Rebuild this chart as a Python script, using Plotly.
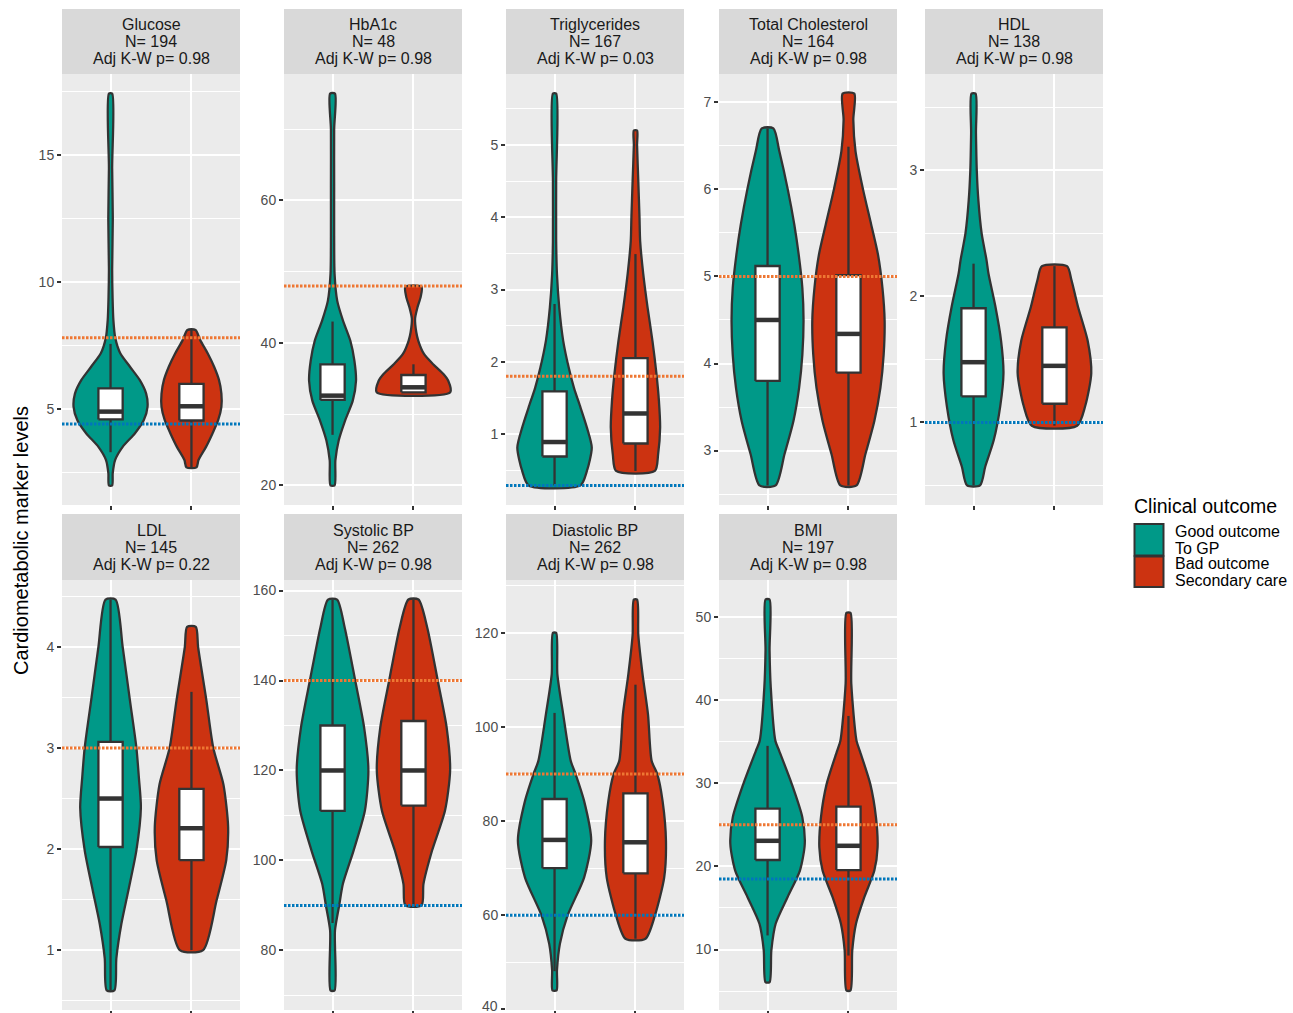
import plotly.graph_objects as go

# ---------------- data ----------------
markers = ["Glucose", "HbA1c", "Triglycerides", "Total Cholesterol", "HDL",
           "LDL", "Systolic BP", "Diastolic BP", "BMI"]
n_values = [194, 48, 167, 164, 138, 145, 262, 262, 197]
p_values = ["0.98", "0.98", "0.03", "0.98", "0.98", "0.22", "0.98", "0.98", "0.98"]
major_dtick = [5, 20, 1, 1, 1, 1, 20, 20, 10]

groups = ["Good outcome<br>To GP", "Bad outcome<br>Secondary care"]
group_colors = ["#009988", "#CC3311"]

# reference (threshold) lines
upper_ref = [7.8, 48, 1.8, 5.0, None, 3.0, 140, 90, 25]
lower_ref = [4.4, None, 0.29, None, 1.0, None, 90, 60, 18.5]

# box statistics
good_q1 = [4.58, 32.0, 0.69, 3.80, 1.206, 2.02, 111.0, 70.0, 20.77]
good_med = [4.89, 32.6, 0.89, 4.50, 1.478, 2.50, 120.0, 76.0, 23.08]
good_q3 = [5.81, 37.0, 1.59, 5.12, 1.906, 3.06, 130.0, 84.7, 26.96]
good_lo = [3.29, 27.1, 0.29, 2.6, 0.5, 0.6, 86.1, 48.1, 11.7]
good_hi = [7.56, 43.0, 2.80, 6.7, 2.26, 4.47, 158.0, 103.0, 34.5]
bad_q1 = [4.54, 33.07, 0.87, 3.895, 1.148, 1.89, 112.2, 68.9, 19.56]
bad_med = [5.10, 33.77, 1.285, 4.34, 1.449, 2.206, 120.0, 75.5, 22.48]
bad_q3 = [5.98, 35.5, 2.05, 5.015, 1.755, 2.595, 131.0, 85.9, 27.2]
bad_lo = [2.69, 33.07, 0.49, 2.6, 0.974, 1.0, 90.0, 55.0, 9.28]
bad_hi = [8.11, 37.0, 3.49, 6.49, 2.24, 3.556, 158.0, 109.0, 38.1]

# violin density profiles (value levels and half-widths)
good_levels = [
    [1.98, 2.46, 2.98, 3.50, 4.03, 4.55, 5.08, 5.6, 6.14, 6.66, 7.19, 7.8, 8.5, 9.39, 10.5, 12.5, 14.5, 17.43],
    [20.0, 23.5, 26.3, 29.1, 31.9, 34.7, 37.5, 40.3, 43.1, 45.9, 49.7, 55, 62, 70, 75.0],
    [0.29, 0.49, 0.815, 1.09, 1.37, 1.64, 1.92, 2.29, 2.75, 3.21, 3.67, 4.5, 5.71],
    [2.6, 2.96, 3.34, 3.72, 4.10, 4.49, 4.87, 5.25, 5.6, 6.0, 6.44, 6.7],
    [0.5, 0.65, 0.86, 1.13, 1.39, 1.65, 1.92, 2.18, 2.29, 2.50, 2.76, 3.0, 3.3, 3.61],
    [0.6, 0.92, 1.26, 1.59, 1.99, 2.41, 2.71, 3.0, 3.47, 4.0, 4.47],
    [71.1, 84.4, 90, 94.8, 102.2, 111.1, 120, 129.6, 140, 151.8, 158],
    [44, 48.3, 53.9, 59.9, 68.0, 75.8, 84.3, 90, 92.8, 102.7, 111.2, 120],
    [6.08, 9.9, 13.1, 16.3, 19.5, 22.7, 25.9, 29.9, 33.9, 35.1, 41.5, 46, 52.1],
]
good_halfwidth = [
    [0.02, 0.027, 0.056, 0.15, 0.30, 0.41, 0.457, 0.44, 0.36, 0.24, 0.12, 0.058, 0.035, 0.025, 0.02, 0.028, 0.02, 0.02],
    [0.025, 0.035, 0.076, 0.155, 0.25, 0.29, 0.27, 0.22, 0.13, 0.058, 0.025, 0.02, 0.02, 0.02, 0.03],
    [0.32, 0.40, 0.46, 0.40, 0.32, 0.24, 0.175, 0.107, 0.058, 0.03, 0.02, 0.02, 0.02],
    [0.10, 0.21, 0.32, 0.39, 0.43, 0.445, 0.43, 0.385, 0.33, 0.25, 0.145, 0.072],
    [0.08, 0.145, 0.25, 0.33, 0.37, 0.34, 0.27, 0.185, 0.16, 0.10, 0.06, 0.04, 0.03, 0.025],
    [0.047, 0.072, 0.134, 0.22, 0.32, 0.375, 0.35, 0.32, 0.24, 0.15, 0.062],
    [0.025, 0.03, 0.082, 0.128, 0.26, 0.40, 0.443, 0.39, 0.28, 0.15, 0.056],
    [0.025, 0.03, 0.066, 0.16, 0.365, 0.453, 0.365, 0.26, 0.2, 0.107, 0.035, 0.02],
    [0.025, 0.047, 0.1, 0.247, 0.40, 0.46, 0.43, 0.30, 0.144, 0.097, 0.04, 0.025, 0.025],
]
bad_levels = [
    [2.69, 2.98, 3.50, 4.03, 4.55, 5.08, 5.6, 6.14, 6.66, 7.19, 7.70, 8.11],
    [33.07, 34.7, 35.65, 37.05, 38.45, 40.3, 41.5, 43.4, 45.0, 46.5, 47.9],
    [0.49, 0.72, 1.09, 1.46, 1.83, 2.29, 2.75, 3.21, 3.67, 4.0, 4.5, 5.0, 5.20],
    [2.6, 2.96, 3.34, 3.72, 4.10, 4.49, 4.87, 5.25, 5.6, 6.0, 6.44, 6.8, 7.1],
    [0.974, 1.13, 1.39, 1.65, 1.92, 2.13, 2.24],
    [1.0, 1.49, 1.89, 2.22, 2.64, 3.0, 3.47, 4.0, 4.2],
    [90, 94.8, 102.2, 111.1, 120, 129.6, 140, 151.8, 158],
    [55, 59.9, 68, 75.8, 84.3, 90, 92.8, 102.7, 111.2, 119.6, 127.1],
    [5.08, 9.9, 13.1, 16.3, 19.5, 22.3, 25.9, 29.9, 33.9, 35.1, 42, 50.5],
]
bad_halfwidth = [
    [0.062, 0.087, 0.18, 0.26, 0.33, 0.37, 0.37, 0.34, 0.28, 0.20, 0.11, 0.05],
    [0.455, 0.43, 0.37, 0.24, 0.13, 0.06, 0.035, 0.02, 0.05, 0.09, 0.10],
    [0.24, 0.28, 0.305, 0.29, 0.26, 0.21, 0.15, 0.097, 0.058, 0.05, 0.035, 0.02, 0.02],
    [0.10, 0.21, 0.32, 0.395, 0.435, 0.447, 0.42, 0.365, 0.28, 0.18, 0.087, 0.06, 0.072],
    [0.28, 0.38, 0.455, 0.41, 0.29, 0.21, 0.155],
    [0.144, 0.31, 0.43, 0.453, 0.395, 0.27, 0.185, 0.082, 0.054],
    [0.10, 0.124, 0.23, 0.39, 0.453, 0.41, 0.30, 0.17, 0.062],
    [0.124, 0.24, 0.355, 0.377, 0.335, 0.27, 0.2, 0.155, 0.088, 0.035, 0.02],
    [0.025, 0.047, 0.093, 0.196, 0.32, 0.36, 0.34, 0.27, 0.14, 0.10, 0.035, 0.025],
]

# ---------------- layout geometry (pixels) ----------------
W, H = 1293, 1013
col_x = [(62, 240), (284, 462), (506, 684), (719, 897), (925, 1103)]
row_panel_y = [(74, 505), (580, 1010)]
row_strip_y = [(9, 74), (514, 580)]
strip_line_y = [(24.3, 41.5, 58.5), (530, 547, 564)]

FONT = "Liberation Sans, Arial, sans-serif"
OUTLINE = "#333333"
BOX_W = 0.3
LW = 2.3


def fx(p):
    return p / W


def fy(p):
    return 1 - p / H


fig = go.Figure()
shapes = []
annotations = []

for i, name in enumerate(markers):
    r, c = divmod(i, 5)
    sfx = "" if i == 0 else str(i + 1)
    xa, ya = "x" + sfx, "y" + sfx
    x0p, x1p = col_x[c]
    y0p, y1p = row_panel_y[r]

    lo = min(good_levels[i][0], bad_levels[i][0])
    hi = max(good_levels[i][-1], bad_levels[i][-1])
    span = hi - lo
    yrange = [lo - 0.05 * span, hi + 0.05 * span]

    stats = [
        (good_levels[i], good_halfwidth[i], good_q1[i], good_med[i], good_q3[i], good_lo[i], good_hi[i]),
        (bad_levels[i], bad_halfwidth[i], bad_q1[i], bad_med[i], bad_q3[i], bad_lo[i], bad_hi[i]),
    ]
    for g, (lv, hw, q1, med, q3, wlo, whi) in enumerate(stats):
        pos = g + 1
        common = dict(xaxis=xa, yaxis=ya, showlegend=False, hoverinfo="skip")
        # violin outline
        xs = [pos + w for w in hw] + [pos - w for w in reversed(hw)] + [pos + hw[0]]
        ys = list(lv) + list(reversed(lv)) + [lv[0]]
        fig.add_trace(go.Scatter(
            x=xs, y=ys, mode="lines", fill="toself", fillcolor=group_colors[g],
            line=dict(color=OUTLINE, width=LW, shape="spline", smoothing=0.7), **common))
        # whiskers
        fig.add_trace(go.Scatter(
            x=[pos, pos, None, pos, pos], y=[wlo, q1, None, q3, whi], mode="lines",
            line=dict(color=OUTLINE, width=LW), **common))
        # box
        bl, br = pos - BOX_W / 2, pos + BOX_W / 2
        fig.add_trace(go.Scatter(
            x=[bl, br, br, bl, bl], y=[q1, q1, q3, q3, q1], mode="lines",
            fill="toself", fillcolor="white",
            line=dict(color=OUTLINE, width=LW), **common))
        # median
        fig.add_trace(go.Scatter(
            x=[bl, br], y=[med, med], mode="lines",
            line=dict(color=OUTLINE, width=4.5), **common))

    for val, col in ((upper_ref[i], "#EE7733"), (lower_ref[i], "#0077BB")):
        if val is not None:
            shapes.append(dict(type="line", xref=f"{xa} domain", x0=0, x1=1,
                               yref=ya, y0=val, y1=val, layer="above",
                               line=dict(color=col, width=3, dash="2.5px,1.5px")))

    fig.update_layout(**{
        f"xaxis{sfx}": dict(
            domain=[fx(x0p), fx(x1p)], anchor=ya, range=[0.4, 2.6],
            tickvals=[1, 2], showticklabels=False, ticks="outside", ticklen=4,
            tickwidth=2, tickcolor=OUTLINE, showgrid=True, gridcolor="white",
            gridwidth=2, zeroline=False, showline=False, fixedrange=True),
        f"yaxis{sfx}": dict(
            domain=[fy(y1p), fy(y0p)], anchor=xa, range=yrange,
            tickmode="linear", tick0=0, dtick=major_dtick[i],
            ticks="outside", ticklen=4, tickwidth=2, tickcolor=OUTLINE,
            tickfont=dict(family=FONT, size=14, color="#4D4D4D"),
            showgrid=True, gridcolor="white", gridwidth=2,
            minor=dict(tickmode="linear", tick0=0, dtick=major_dtick[i] / 2,
                       showgrid=True, gridcolor="white", gridwidth=1, ticks=""),
            zeroline=False, showline=False, fixedrange=True),
    })

    # strip
    s0, s1 = row_strip_y[r]
    shapes.append(dict(type="rect", xref="paper", yref="paper",
                       x0=fx(x0p), x1=fx(x1p), y0=fy(s1), y1=fy(s0),
                       fillcolor="#D9D9D9", line=dict(width=0), layer="below"))
    lines = [name, f"N= {n_values[i]}", f"Adj K-W p= {p_values[i]}"]
    for txt, ly in zip(lines, strip_line_y[r]):
        annotations.append(dict(text=txt, xref="paper", yref="paper",
                                x=fx((x0p + x1p) / 2), y=fy(ly), showarrow=False,
                                xanchor="center", yanchor="middle",
                                font=dict(family=FONT, size=16, color="#1A1A1A")))

# bottom tick label of the Diastolic BP panel, which sits on the figure edge
annotations.append(dict(text="40", xref="paper", yref="paper",
                        x=fx(500), y=0, showarrow=False,
                        xanchor="right", yanchor="bottom", yshift=-3,
                        font=dict(family=FONT, size=14, color="#4D4D4D")))

# y-axis title
annotations.append(dict(text="Cardiometabolic marker levels", xref="paper", yref="paper",
                        x=fx(21), y=fy(541), showarrow=False, textangle=-90,
                        xanchor="center", yanchor="middle",
                        font=dict(family=FONT, size=20, color="black")))

# legend (drawn manually)
annotations.append(dict(text="Clinical outcome", xref="paper", yref="paper",
                        x=fx(1132), y=fy(505.5), showarrow=False,
                        xanchor="left", yanchor="middle",
                        font=dict(family=FONT, size=19.5, color="black")))
key_y = [(524, 555.5), (556.5, 587)]
for g, label in enumerate(groups):
    k0, k1 = key_y[g]
    shapes.append(dict(type="rect", xref="paper", yref="paper",
                       x0=fx(1134.5), x1=fx(1163.5), y0=fy(k1), y1=fy(k0),
                       fillcolor=group_colors[g], line=dict(color=OUTLINE, width=2)))
    parts = label.split("<br>")
    mid = (k0 + k1) / 2
    for j, part in enumerate(parts):
        annotations.append(dict(text=part, xref="paper", yref="paper",
                                x=fx(1173), y=fy(mid - 8.3 + 16.6 * j), showarrow=False,
                                xanchor="left", yanchor="middle",
                                font=dict(family=FONT, size=16, color="black")))

fig.update_layout(
    width=W, height=H, margin=dict(l=0, r=0, t=0, b=0),
    paper_bgcolor="white", plot_bgcolor="#EBEBEB",
    shapes=shapes, annotations=annotations, showlegend=False,
    font=dict(family=FONT),
)

fig.write_html("out.html", config={"displayModeBar": False},
               post_script="document.body.style.margin='0';document.body.style.overflow='hidden';")
